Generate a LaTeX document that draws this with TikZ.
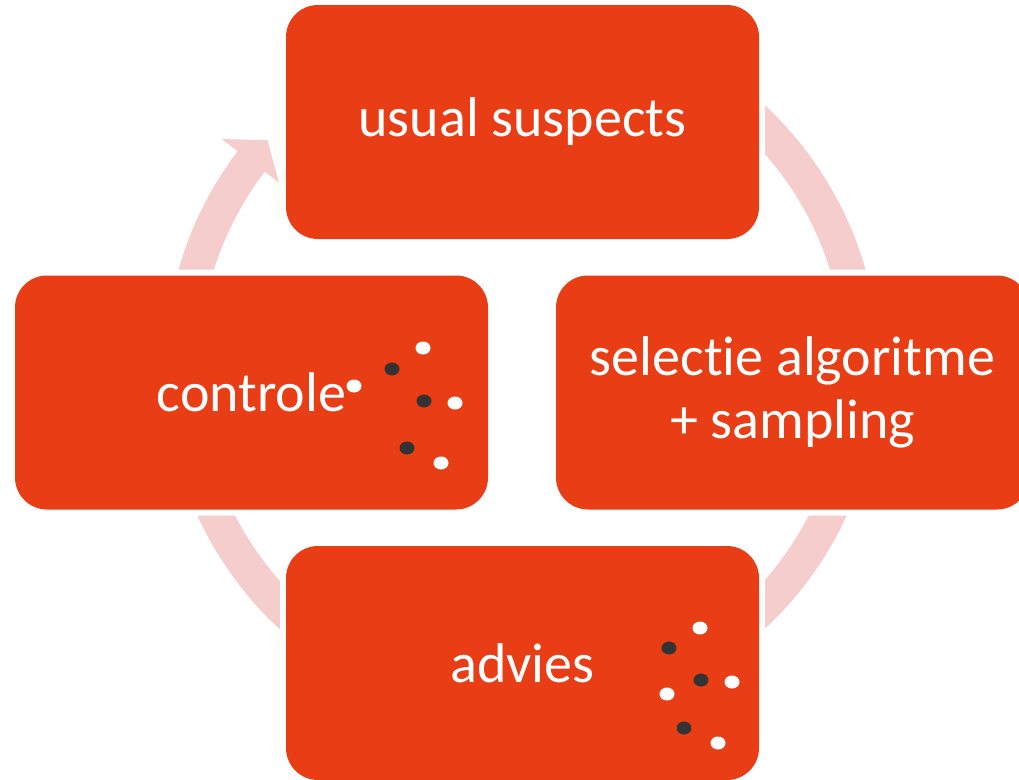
\documentclass[tikz,border=0pt]{standalone}
\usepackage{fontspec}
\setmainfont[Ligatures=NoCommon]{Carlito}
\definecolor{boxorange}{HTML}{E83D15}
\definecolor{ringpink}{HTML}{F5CDCC}
\definecolor{dotdark}{HTML}{333333}
\tikzset{
  stage/.style={
    rectangle, rounded corners=32pt,
    minimum width=473pt, minimum height=234pt,
    fill=boxorange, text=white, align=center, inner sep=0pt,
    font=\fontsize{56}{63}\selectfont,
    preaction={draw=white, line width=12pt}
  },
  lightdot/.style={fill=white},
  darkdot/.style={fill=dotdark}
}
\begin{document}
\begin{tikzpicture}[x=1pt,y=-1pt]
  \useasboundingbox (0,0) rectangle (1019,779);
  \clip (0,0) rectangle (1019,779);
  \fill[white] (0,0) rectangle (1019,779);

  % continuous circular arrow behind the stages
  \fill[ringpink, shift={(522,367)}]
    (235:357) arc[start angle=235, end angle=577.2, radius=357]
    -- (577.2:377) -- (581.7:341) -- (577.2:305) -- (577.2:323)
    arc[start angle=577.2, end angle=235, radius=323] -- cycle;

  % the four stages
  \node[stage] (suspects) at (522.5,122) {usual suspects};
  \node[stage] (selectie) at (792.5,392.5) {\raisebox{-3pt}{selectie algoritme}\\\raisebox{-3pt}{+ sampling}};
  \node[stage] (controle) at (251.5,392.5) {controle};
  \node[stage] (advies)   at (522.5,663) {advies};

  % scattered dots in the controle stage
  \fill[lightdot] (423,348) ellipse[x radius=7.5, y radius=6.5];
  \fill[darkdot]  (392,369) ellipse[x radius=7.5, y radius=6.5];
  \fill[lightdot] (354,386) ellipse[x radius=7.5, y radius=6.5];
  \fill[darkdot]  (424,401) ellipse[x radius=7.5, y radius=6.5];
  \fill[lightdot] (455,403) ellipse[x radius=7.5, y radius=6.5];
  \fill[darkdot]  (407,448) ellipse[x radius=7.5, y radius=6.5];
  \fill[lightdot] (441,463) ellipse[x radius=7.5, y radius=6.5];

  % scattered dots in the advies stage
  \fill[lightdot] (700,628) ellipse[x radius=7.5, y radius=6.5];
  \fill[darkdot]  (669,648) ellipse[x radius=7.5, y radius=6.5];
  \fill[darkdot]  (701,680) ellipse[x radius=7.5, y radius=6.5];
  \fill[lightdot] (732,682) ellipse[x radius=7.5, y radius=6.5];
  \fill[lightdot] (667,694) ellipse[x radius=7.5, y radius=6.5];
  \fill[darkdot]  (684,728) ellipse[x radius=7.5, y radius=6.5];
  \fill[lightdot] (718,743) ellipse[x radius=7.5, y radius=6.5];
\end{tikzpicture}
\end{document}
